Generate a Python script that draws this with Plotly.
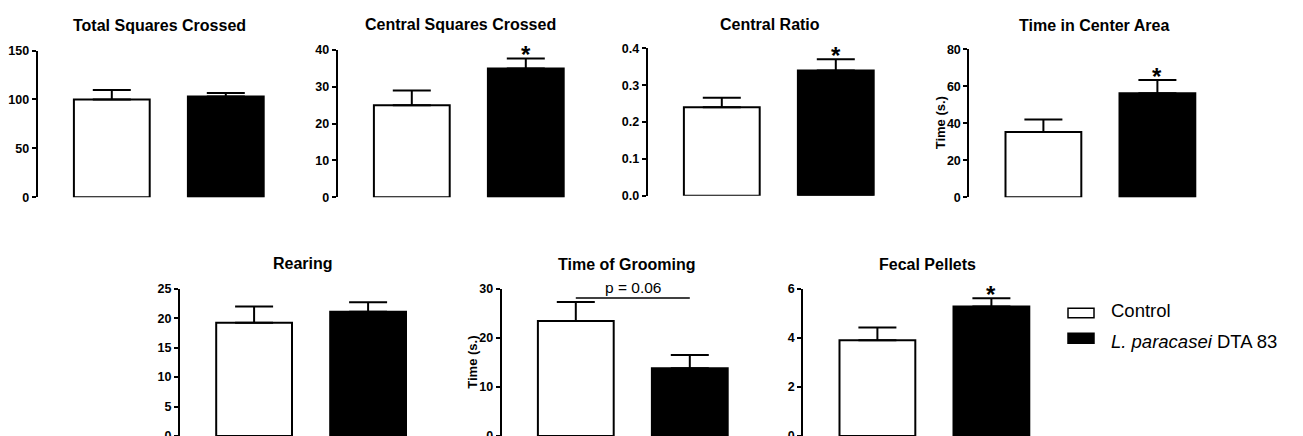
import plotly.graph_objects as go

W, H = 1303, 436
FONT = "Liberation Sans, Arial, sans-serif"

# ---------------- data ----------------
groups = ["Control", "L. paracasei DTA 83"]
panel_titles = ["Total Squares Crossed", "Central Squares Crossed", "Central Ratio",
                "Time in Center Area", "Rearing", "Time of Grooming", "Fecal Pellets"]
control_means = [100, 25, 0.24, 35.3, 19.2, 23.4, 3.9]
control_sems = [9.7, 4.0, 0.026, 6.7, 2.8, 3.9, 0.52]
dta_means = [103, 35, 0.34, 56.2, 21.1, 13.8, 5.28]
dta_sems = [3.6, 2.7, 0.03, 7.2, 1.6, 2.7, 0.33]
y_max = [150, 40, 0.4, 80, 25, 30, 6]
y_dtick = [50, 10, 0.1, 20, 5, 10, 2]
y_titles = ["", "", "", "Time (s.)", "", "Time (s.)", ""]
significant = [False, True, True, True, False, False, True]
p_panel = 5
p_value_label = "p = 0.06"
p_line_value = 28.1
legend_labels = ["Control", "<i>L. paracasei</i> DTA 83"]

# ---------------- layout (pixels) ----------------
axis_left = [37.7, 337.7, 647.7, 969.3, 180.0, 501.7, 803.3]
axis_top = [50.5, 50.0, 48.3, 49.3, 288.7, 288.7, 288.7]
axis_bottom = [197.3, 197.3, 195.7, 197.3, 436.0, 436.0, 436.0]
title_px = [(159, 25), (460, 24), (770, 24), (1094, 25), (303, 263), (626, 264), (927, 264)]
ytitle_px = {3: (940, 123.3), 5: (471.7, 362)}
UNIT = 114.0
XR = [-0.65, 1.55]


def px_x(v):
    return v / W


def px_y(v):
    return 1 - v / H


fig = go.Figure()
annotations = []
shapes = []
layout_axes = {}

for i in range(7):
    n = i + 1
    xa = "x" if n == 1 else f"x{n}"
    ya = "y" if n == 1 else f"y{n}"
    fig.add_trace(go.Bar(
        x=groups, y=[control_means[i], dta_means[i]],
        xaxis=xa, yaxis=ya, width=0.665,
        marker=dict(color=["white", "black"], line=dict(color="black", width=2)),
        error_y=dict(type="data", symmetric=False,
                     array=[control_sems[i], dta_sems[i]], arrayminus=[0, 0],
                     color="black", thickness=2, width=19),
        showlegend=False, hoverinfo="skip",
    ))
    x0 = axis_left[i]
    x1 = x0 + UNIT * (XR[1] - XR[0])
    layout_axes["xaxis" if n == 1 else f"xaxis{n}"] = dict(
        domain=[px_x(x0), min(px_x(x1), 1)], range=XR, anchor=ya, automargin=False,
        showline=False, showticklabels=False, ticks="", showgrid=False, zeroline=False,
        type="category", categoryorder="array", categoryarray=groups,
    )
    layout_axes["yaxis" if n == 1 else f"yaxis{n}"] = dict(
        domain=[max(px_y(axis_bottom[i]), 0), px_y(axis_top[i])],
        range=[0, y_max[i]], anchor=xa, dtick=y_dtick[i], tick0=0, automargin=False,
        tickformat=".1f" if y_max[i] < 1 else "d", ticklabeloverflow="allow",
        showline=True, linecolor="black", linewidth=2,
        ticks="outside", ticklen=4, tickwidth=2, tickcolor="black",
        showgrid=False, zeroline=False,
        tickfont=dict(family=FONT, size=12.5, color="black", weight="bold"),
    )
    tx, ty = title_px[i]
    annotations.append(dict(x=px_x(tx), y=px_y(ty), xref="paper", yref="paper",
                            text=f"<b>{panel_titles[i]}</b>", showarrow=False,
                            xanchor="center", yanchor="middle",
                            font=dict(family=FONT, size=16, color="black")))
    if y_titles[i]:
        yx, yy = ytitle_px[i]
        annotations.append(dict(x=px_x(yx), y=px_y(yy), xref="paper", yref="paper",
                                text=f"<b>{y_titles[i]}</b>", showarrow=False, textangle=-90,
                                xanchor="center", yanchor="middle",
                                font=dict(family=FONT, size=13, color="black")))
    if significant[i]:
        annotations.append(dict(x=groups[1], y=dta_means[i] + dta_sems[i], xref=xa, yref=ya,
                                text="<b>*</b>", showarrow=False, xanchor="center",
                                yanchor="middle", yshift=4,
                                font=dict(family=FONT, size=24, color="black")))
    if i == p_panel:
        fig.add_trace(go.Scatter(x=groups, y=[p_line_value, p_line_value], xaxis=xa, yaxis=ya,
                                 mode="lines", line=dict(color="black", width=1.5),
                                 showlegend=False, hoverinfo="skip"))
        annotations.append(dict(x=0.5, y=p_line_value, xref=xa, yref=ya,
                                text=p_value_label, showarrow=False, xanchor="center",
                                yanchor="bottom", yshift=0,
                                font=dict(family=FONT, size=15.5, color="black")))

# legend (drawn manually)
legend_boxes = [(1068, 308.3, 1094, 317.7, "white"), (1068, 333.3, 1094, 343.3, "black")]
legend_text_y = [310.8, 341]
for (bx0, by0, bx1, by1, col), lab, ly in zip(legend_boxes, legend_labels, legend_text_y):
    shapes.append(dict(type="rect", xref="paper", yref="paper",
                       x0=px_x(bx0), x1=px_x(bx1), y0=px_y(by1), y1=px_y(by0),
                       fillcolor=col, line=dict(color="black", width=1.5)))
    annotations.append(dict(x=px_x(1109), y=px_y(ly), xref="paper", yref="paper",
                            text=lab, showarrow=False, xanchor="left", yanchor="middle",
                            font=dict(family=FONT, size=18.5, color="black")))

fig.update_layout(
    template="none",
    width=W, height=H, margin=dict(l=0, r=0, t=0, b=0, pad=0),
    paper_bgcolor="white", plot_bgcolor="white",
    font=dict(family=FONT, color="black"),
    annotations=annotations, shapes=shapes, showlegend=False,
    **layout_axes,
)

fig.write_html("out.html")
